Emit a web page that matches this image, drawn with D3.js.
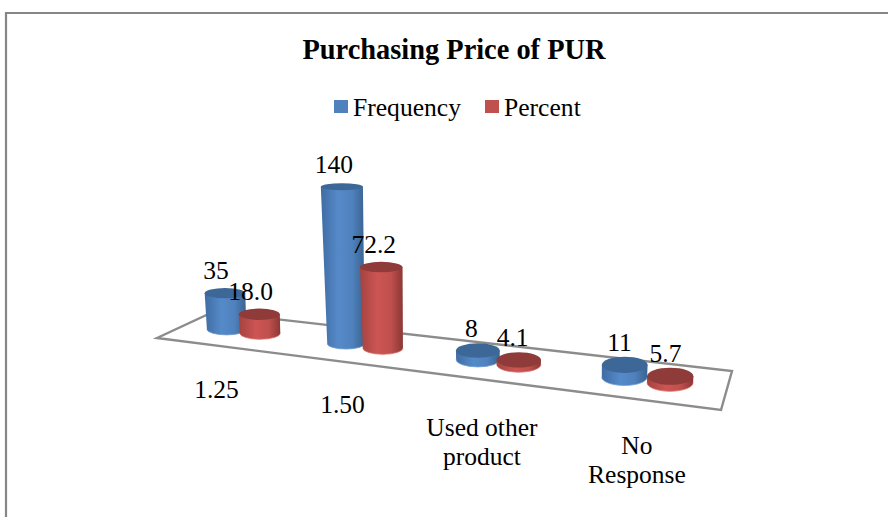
<!DOCTYPE html>
<html>
<head>
<meta charset="utf-8">
<script src="https://cdnjs.cloudflare.com/ajax/libs/d3/7.8.5/d3.min.js"></script>
<style>
html,body{margin:0;padding:0;background:#fff}
svg{display:block}
text{font-family:"Liberation Serif","Times New Roman",serif;fill:#000}
</style>
</head>
<body>
<script>
const title = "Purchasing Price of PUR";
const categories = ["1.25", "1.50", "Used other\nproduct", "No\nResponse"];
const seriesNames = ["Frequency", "Percent"];
const frequency = [35, 140, 8, 11];
const percent = [18.0, 72.2, 4.1, 5.7];
const percentLabels = ["18.0", "72.2", "4.1", "5.7"];

const W = 888, H = 517;
const svg = d3.select("body").append("svg").attr("width", W).attr("height", H);
const defs = svg.append("defs");

const palette = {
  Frequency: {swatch: "#4f81bd", top: "#3d6797", rim: "#6f9bd0", stops: ["#3f6ca3", "#558ac9", "#4f81bd", "#39628f"]},
  Percent:   {swatch: "#c0504d", top: "#8f3b39", rim: "#d9706c", stops: ["#a34341", "#cc5552", "#c0504d", "#8b3735"]}
};
seriesNames.forEach(s => {
  const g = defs.append("linearGradient").attr("id", "grad-" + s).attr("x1", 0).attr("x2", 1).attr("y1", 0).attr("y2", 0);
  [0, .4, .72, 1].forEach((o, i) => g.append("stop").attr("offset", o).attr("stop-color", palette[s].stops[i]));
});

// frame (runs past the right and bottom of the picture)
svg.append("path").attr("d", d3.line()([[6, H + 5], [6, 13], [W + 5, 13]]))
  .attr("fill", "none").attr("stroke", "#868686").attr("stroke-width", 2.2);

// title
svg.append("text").attr("x", 454).attr("y", 59).attr("text-anchor", "middle")
  .attr("font-weight", "bold").attr("font-size", 28.4).text(title);

// legend
const legendX = d3.scaleOrdinal().domain(seriesNames).range([334, 485]);
const legend = svg.append("g").selectAll("g").data(seriesNames).join("g")
  .attr("transform", d => `translate(${legendX(d)},0)`);
legend.append("rect").attr("y", 100).attr("width", 14).attr("height", 13).attr("fill", d => palette[d].swatch);
legend.append("text").attr("x", 19).attr("y", 115.5).attr("font-size", 25.6).text(d => d);

// floor plane: homography from the unit square onto the drawn parallelogram
const corners = [[157, 338], [721, 410], [732, 371], [213, 312]];
function makeProjection([p0, p1, p2, p3]) {
  const dx1 = p1[0] - p2[0], dx2 = p3[0] - p2[0], sx = p0[0] - p1[0] + p2[0] - p3[0];
  const dy1 = p1[1] - p2[1], dy2 = p3[1] - p2[1], sy = p0[1] - p1[1] + p2[1] - p3[1];
  const den = dx1 * dy2 - dx2 * dy1;
  const g = (sx * dy2 - dx2 * sy) / den, h = (dx1 * sy - sx * dy1) / den;
  const a = p1[0] - p0[0] + g * p1[0], b = p3[0] - p0[0] + h * p3[0], c = p0[0];
  const d = p1[1] - p0[1] + g * p1[1], e = p3[1] - p0[1] + h * p3[1], f = p0[1];
  return (u, v) => { const w = g * u + h * v + 1; return [(a * u + b * v + c) / w, (d * u + e * v + f) / w]; };
}
const project = makeProjection(corners);

svg.append("polygon").attr("points", corners.map(p => p.join(",")).join(" "))
  .attr("fill", "#fff").attr("stroke", "#8c8c8c").attr("stroke-width", 2.4).attr("stroke-linejoin", "miter");

const uScale = d3.scaleBand().domain(categories).range([0, 1]);
const seriesOffset = d3.scalePoint().domain(seriesNames).range([-.0345, .038]);
const heightScale = d3.scaleLinear().domain([0, 140]).range([0, 157]);
// foreshortening: bars toward the far-left end of the floor read shorter
const depthScale = d3.scaleLinear().domain([.09, .34]).range([.92, 1]).clamp(true);

const values = {Frequency: frequency, Percent: percent};
const labels = {Frequency: frequency.map(String), Percent: percentLabels};

const bars = [];
categories.forEach((c, i) => seriesNames.forEach(s => {
  const u = uScale(c) + uScale.bandwidth() / 2 + seriesOffset(s);
  const [bx, by] = project(u, .5);
  const h = heightScale(values[s][i]) * depthScale(u);
  const tx = bx + (bx - 500) * .00017 * h, ty = by - h;
  const rxTop = 18.8 + .0065 * bx;
  const rxBase = rxTop * (1 - .0007 * h);
  const ryTop = 3 + .02 * (ty - 186) + .004 * (bx - 225);
  const ryBase = ryTop + .02 * h * .6;
  bars.push({s, i, label: labels[s][i], bx, by, tx, ty, rxTop, rxBase, ryTop, ryBase});
}));

const barG = svg.append("g").selectAll("g").data(bars).join("g");
barG.append("path")
  .attr("fill", d => `url(#grad-${d.s})`)
  .attr("d", d => `M${d.tx - d.rxTop},${d.ty}L${d.bx - d.rxBase},${d.by}` +
    `A${d.rxBase},${d.ryBase} 0 0 0 ${d.bx + d.rxBase},${d.by}` +
    `L${d.tx + d.rxTop},${d.ty}Z`);
barG.append("path")
  .attr("fill", "none").attr("stroke", d => palette[d.s].rim).attr("stroke-width", 1).attr("opacity", .8)
  .attr("d", d => `M${d.bx - d.rxBase},${d.by}A${d.rxBase},${d.ryBase} 0 0 0 ${d.bx + d.rxBase},${d.by}`);
barG.append("ellipse")
  .attr("cx", d => d.tx).attr("cy", d => d.ty).attr("rx", d => d.rxTop).attr("ry", d => d.ryTop)
  .attr("fill", d => palette[d.s].top);

// data labels
svg.append("g").selectAll("text").data(bars).join("text")
  .attr("text-anchor", "middle").attr("font-size", 25.5)
  .attr("x", d => d.tx - 9 + .0095 * (d.tx - 225))
  .attr("y", d => d.ty - 14)
  .text(d => d.label);

// category labels, placed from the floor centre line
const catG = svg.append("g").selectAll("text").data(categories).join("text")
  .attr("text-anchor", "middle").attr("font-size", 25.5)
  .attr("transform", c => {
    const lines = c.split("\n").length;
    const [x, y] = project(uScale(c) + uScale.bandwidth() / 2, .5);
    return `translate(${x - 26 + .042 * (x - 242)},${y + 67 + (lines - 1) * 7})`;
  });
catG.selectAll("tspan").data(c => c.split("\n")).join("tspan")
  .attr("x", 0).attr("y", (d, i) => i * 29.5).text(d => d);
</script>
</body>
</html>
